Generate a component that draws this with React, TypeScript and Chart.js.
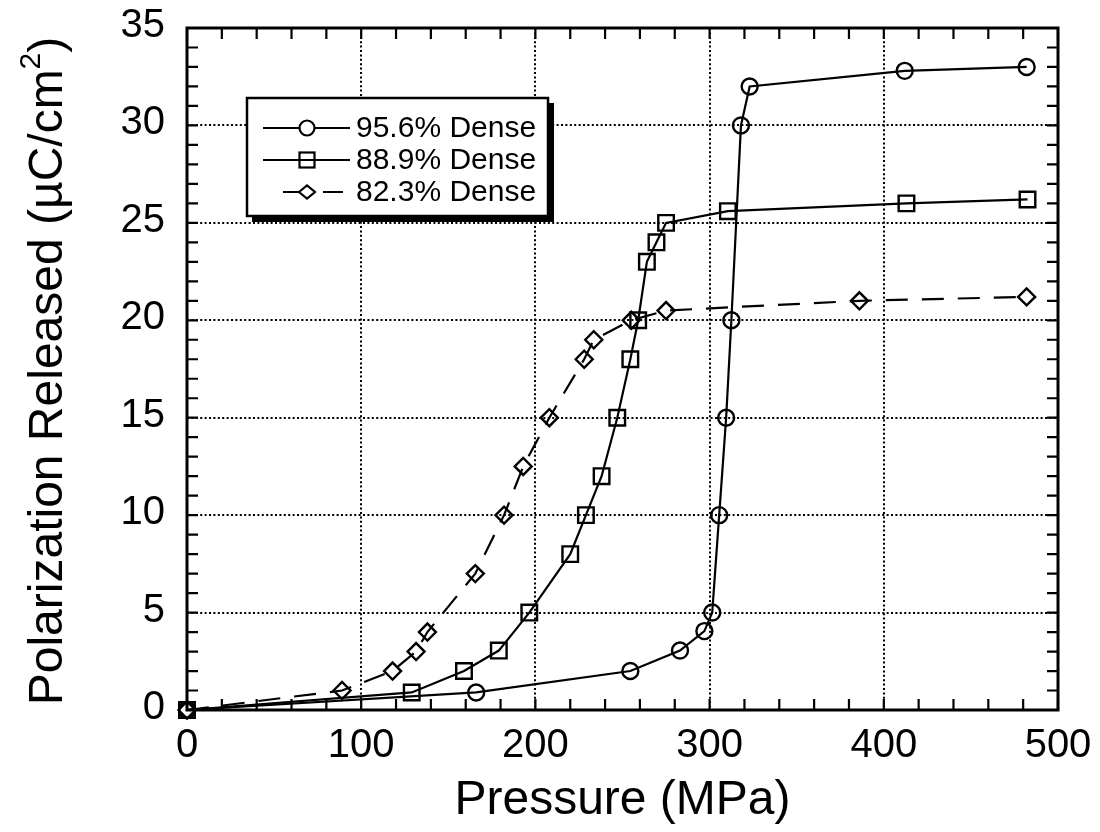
import React, { useEffect, useRef } from "react";
import { Chart, registerables } from "chart.js";

Chart.register(...registerables);

// ---- Data ----
const dense956X = [0, 166, 254.5, 283, 297, 301.5, 305.5, 309.5, 312.5, 318, 323, 412, 482];
const dense956Y = [0, 0.9, 2, 3.05, 4.05, 5, 10, 15, 20, 30, 32, 32.8, 33];

const dense889X = [0, 129, 159, 179, 196.5, 220, 229, 238, 247, 254.5, 259, 264, 269.5, 275, 310.5, 413, 482.5];
const dense889Y = [0, 0.9, 2, 3.05, 5, 8, 10, 12, 15, 18, 20, 23, 24, 25, 25.6, 26, 26.2];

const dense823X = [0, 89, 118, 131.5, 138, 165.5, 182, 193, 208, 228, 233.5, 255, 275, 386, 482];
const dense823Y = [0, 1, 2, 3, 4, 7, 10, 12.5, 15, 18, 19, 20, 20.5, 21, 21.2];

const seriesLabels = ["95.6% Dense", "88.9% Dense", "82.3% Dense"];
const xTicks = [0, 100, 200, 300, 400, 500];
const yTicks = [0, 5, 10, 15, 20, 25, 30, 35];
const xTitle = "Pressure (MPa)";
const yTitleMain = "Polarization Released (µC/cm";
const yTitleSup = "2";
const yTitleEnd = ")";

const FONT = "'Liberation Sans', Arial, Helvetica, sans-serif";

const toPoints = (xs: number[], ys: number[]) => xs.map((x, i) => ({ x, y: ys[i] }));

const decorPlugin = {
  id: "decor",
  beforeDatasetsDraw(chart: any) {
    const { ctx, chartArea: a, scales } = chart;
    const xs = scales.x;
    const ys = scales.y;
    ctx.save();
    ctx.strokeStyle = "#000";
    ctx.lineWidth = 2;
    ctx.setLineDash([2, 2.4]);
    for (const v of xTicks) {
      if (v === 0 || v === 500) continue;
      const px = Math.round(xs.getPixelForValue(v));
      ctx.beginPath();
      ctx.moveTo(px, a.top);
      ctx.lineTo(px, a.bottom);
      ctx.stroke();
    }
    for (const v of yTicks) {
      if (v === 0 || v === 35) continue;
      const py = Math.round(ys.getPixelForValue(v));
      ctx.beginPath();
      ctx.moveTo(a.left, py);
      ctx.lineTo(a.right, py);
      ctx.stroke();
    }
    ctx.restore();
  },
  afterDatasetsDraw(chart: any) {
    const { ctx, chartArea: a, scales } = chart;
    const xs = scales.x;
    const ys = scales.y;
    ctx.save();
    ctx.setLineDash([]);
    ctx.strokeStyle = "#000";
    ctx.fillStyle = "#000";

    // minor / major ticks, inward, on all four sides
    ctx.lineWidth = 2.2;
    const tl = 11;
    for (let v = 0; v <= 500; v += 20) {
      const px = xs.getPixelForValue(v);
      ctx.beginPath();
      ctx.moveTo(px, a.bottom);
      ctx.lineTo(px, a.bottom - tl);
      ctx.moveTo(px, a.top);
      ctx.lineTo(px, a.top + tl);
      ctx.stroke();
    }
    for (let v = 0; v <= 35; v += 1) {
      const py = ys.getPixelForValue(v);
      ctx.beginPath();
      ctx.moveTo(a.left, py);
      ctx.lineTo(a.left + tl, py);
      ctx.moveTo(a.right, py);
      ctx.lineTo(a.right - tl, py);
      ctx.stroke();
    }

    // frame
    ctx.lineWidth = 3;
    ctx.strokeRect(a.left, a.top, a.right - a.left, a.bottom - a.top);

    // tick labels
    ctx.font = `40px ${FONT}`;
    ctx.textBaseline = "middle";
    ctx.textAlign = "right";
    for (const v of yTicks) {
      const py = ys.getPixelForValue(v);
      ctx.fillText(String(v), a.left - 22, py - 2);
    }
    ctx.textAlign = "center";
    for (const v of xTicks) {
      const px = xs.getPixelForValue(v);
      ctx.fillText(String(v), px, a.bottom + 36);
    }

    // x title
    ctx.font = `48px ${FONT}`;
    ctx.textAlign = "center";
    ctx.textBaseline = "alphabetic";
    ctx.fillText(xTitle, (a.left + a.right) / 2, 814);

    // y title (rotated)
    ctx.save();
    ctx.translate(62, (a.top + a.bottom) / 2 + 2);
    ctx.rotate(-Math.PI / 2);
    ctx.font = `48px ${FONT}`;
    const w1 = ctx.measureText(yTitleMain).width;
    ctx.font = `30px ${FONT}`;
    const w2 = ctx.measureText(yTitleSup).width;
    ctx.font = `48px ${FONT}`;
    const w3 = ctx.measureText(yTitleEnd).width;
    const total = w1 + w2 + w3;
    let cx = -total / 2;
    ctx.textAlign = "left";
    ctx.fillText(yTitleMain, cx, 0);
    cx += w1;
    ctx.font = `30px ${FONT}`;
    ctx.fillText(yTitleSup, cx, -22);
    cx += w2;
    ctx.font = `48px ${FONT}`;
    ctx.fillText(yTitleEnd, cx, 0);
    ctx.restore();

    // legend
    const bx = 247, by = 98, bw = 301, bh = 118;
    ctx.fillStyle = "#fff";
    ctx.fillRect(bx, by, bw, bh);
    ctx.fillStyle = "#000";
    ctx.fillRect(bx + bw, by + 5, 6, bh + 1);
    ctx.fillRect(bx + 5, by + bh, bw + 1, 6);
    ctx.lineWidth = 2.5;
    ctx.strokeRect(bx, by, bw, bh);

    const rows = [128, 160, 192];
    const mx = 307;
    ctx.lineWidth = 2.2;
    // row 1: circle
    ctx.beginPath();
    ctx.moveTo(263, rows[0]);
    ctx.lineTo(299, rows[0]);
    ctx.moveTo(315, rows[0]);
    ctx.lineTo(350, rows[0]);
    ctx.stroke();
    ctx.beginPath();
    ctx.arc(mx, rows[0], 7.5, 0, Math.PI * 2);
    ctx.stroke();
    // row 2: square
    ctx.beginPath();
    ctx.moveTo(263, rows[1]);
    ctx.lineTo(350, rows[1]);
    ctx.stroke();
    ctx.strokeRect(mx - 7.5, rows[1] - 7.5, 15, 15);
    // row 3: diamond with dashes
    ctx.beginPath();
    ctx.moveTo(283, rows[2]);
    ctx.lineTo(299, rows[2]);
    ctx.moveTo(323, rows[2]);
    ctx.lineTo(343, rows[2]);
    ctx.stroke();
    ctx.beginPath();
    ctx.moveTo(mx - 8, rows[2]);
    ctx.lineTo(mx, rows[2] - 6.5);
    ctx.lineTo(mx + 8, rows[2]);
    ctx.lineTo(mx, rows[2] + 6.5);
    ctx.closePath();
    ctx.stroke();

    ctx.font = `30px ${FONT}`;
    ctx.textAlign = "left";
    ctx.textBaseline = "middle";
    seriesLabels.forEach((t, i) => ctx.fillText(t, 356, rows[i] + 1));

    ctx.restore();
  },
};

export default function App() {
  const ref = useRef<HTMLCanvasElement | null>(null);

  useEffect(() => {
    if (!ref.current) return;
    const common = {
      borderColor: "#000",
      borderWidth: 2.2,
      pointBorderColor: "#000",
      pointBackgroundColor: "rgba(0,0,0,0)",
      pointBorderWidth: 2.4,
      showLine: true,
      tension: 0,
      fill: false,
      clip: false as any,
    };
    const chart = new Chart(ref.current, {
      type: "scatter",
      data: {
        datasets: [
          {
            ...common,
            label: seriesLabels[0],
            data: toPoints(dense956X, dense956Y),
            pointStyle: "circle",
            pointRadius: 8,
          },
          {
            ...common,
            label: seriesLabels[1],
            data: toPoints(dense889X, dense889Y),
            pointStyle: "rect",
            pointRadius: 11,
          },
          {
            ...common,
            label: seriesLabels[2],
            data: toPoints(dense823X, dense823Y),
            pointStyle: "rectRot",
            pointRadius: 8.5,
            borderDash: [22, 14],
          },
        ],
      },
      options: {
        responsive: false,
        animation: false,
        layout: { padding: { top: 28, right: 42, bottom: 0, left: 0 } },
        plugins: {
          legend: { display: false },
          tooltip: { enabled: false },
        },
        scales: {
          x: {
            type: "linear",
            min: 0,
            max: 500,
            ticks: { display: false, stepSize: 100 },
            grid: { display: false },
            border: { display: false },
            afterFit: (s: any) => {
              s.height = 122;
            },
          },
          y: {
            type: "linear",
            min: 0,
            max: 35,
            ticks: { display: false, stepSize: 5 },
            grid: { display: false },
            border: { display: false },
            afterFit: (s: any) => {
              s.width = 187;
            },
          },
        },
      },
      plugins: [decorPlugin],
    });
    return () => chart.destroy();
  }, []);

  return (
    <div style={{ position: "fixed", left: 0, top: 0, width: 1100, height: 832, background: "#fff" }}>
      <canvas ref={ref} width={1100} height={832} style={{ width: 1100, height: 832, display: "block" }} />
    </div>
  );
}
